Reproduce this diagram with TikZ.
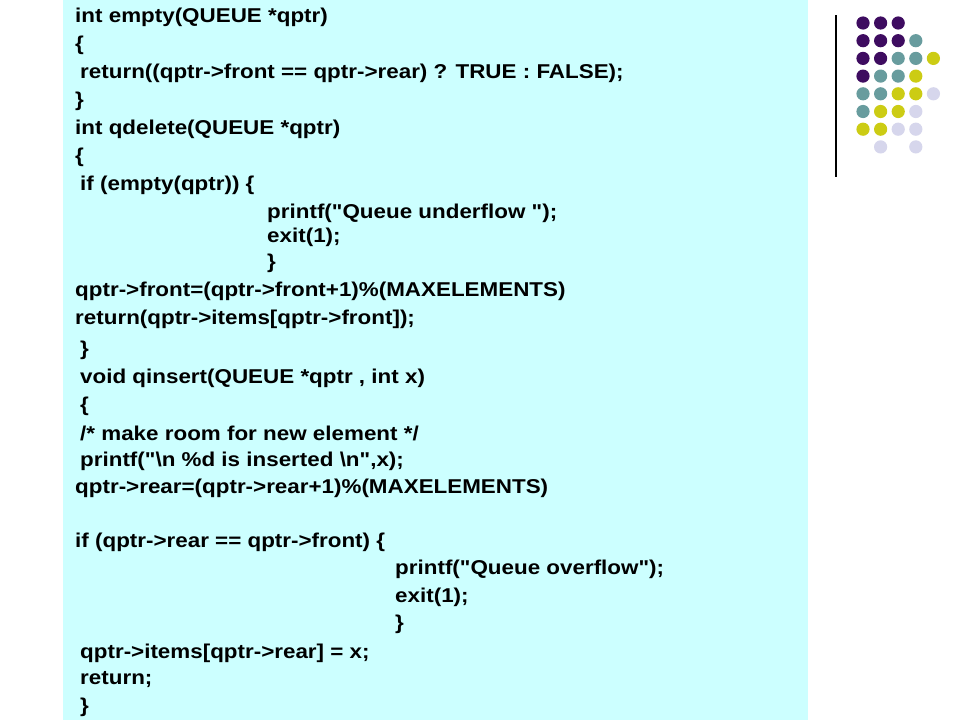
\documentclass[tikz,border=0pt]{standalone}
\usepackage{fontspec}
\defaultfontfeatures[\rmfamily]{}
\setmainfont{Liberation Sans}
\definecolor{bgc}{RGB}{204,255,255}
\definecolor{dP}{RGB}{62,12,96}
\definecolor{dT}{RGB}{104,156,158}
\definecolor{dY}{RGB}{204,204,20}
\definecolor{dL}{RGB}{214,214,236}
\newcommand\qq{\char34\relax}
\begin{document}
\begin{tikzpicture}[x=1pt,y=-1pt,
  code/.style={anchor=west,inner sep=0pt,xscale=1.12,font=\fontsize{20}{22}\selectfont\bfseries}]
\useasboundingbox (0,0) rectangle (960,720);
\fill[white] (0,0) rectangle (960,720);
\fill[bgc] (63,0) rectangle (808,720);
\draw[line width=1.2pt] (836,15) coordinate (la) -- (836,177) coordinate (lb);
\def\dot#1#2#3{\fill[#3] (863+17.6*#1, 23+17.7*#2) circle (6.6);}
\dot00{dP}\dot10{dP}\dot20{dP}
\dot01{dP}\dot11{dP}\dot21{dP}\dot31{dT}
\dot02{dP}\dot12{dP}\dot22{dT}\dot32{dT}\dot42{dY}
\dot03{dP}\dot13{dT}\dot23{dT}\dot33{dY}
\dot04{dT}\dot14{dT}\dot24{dY}\dot34{dY}\dot44{dL}
\dot05{dT}\dot15{dY}\dot25{dY}\dot35{dL}
\dot06{dY}\dot16{dY}\dot26{dL}\dot36{dL}
\dot17{dL}\dot37{dL}
\node[code] (t1) at (75,17) {int empty(QUEUE *qptr)};
\node[code] (t2) at (75,45) {\{};
\node[code] (t3) at (80,73) {return((qptr->front == qptr->rear) ? TRUE : FALSE);};
\node[code] (t4) at (75,101) {\}};
\node[code] (t5) at (75,129) {int qdelete(QUEUE *qptr)};
\node[code] (t6) at (75,157) {\{};
\node[code] (t7) at (80,185) {if (empty(qptr)) \{};
\node[code] (t8) at (267,213) {printf(\qq Queue underflow \qq);};
\node[code] (t9) at (267,237) {exit(1);};
\node[code] (t10) at (267,263) {\}};
\node[code] (t11) at (75,291) {qptr->front=(qptr->front+1)\%(MAXELEMENTS)};
\node[code] (t12) at (75,319) {return(qptr->items[qptr->front]);};
\node[code] (t13) at (80,350) {\}};
\node[code] (t14) at (80,378) {void qinsert(QUEUE *qptr , int x)};
\node[code] (t15) at (80,406) {\{};
\node[code] (t16) at (80,433) {/* make room for new element */};
\node[code] (t17) at (80,461) {printf(\qq\textbackslash n \%d is inserted \textbackslash n\qq,x);};
\node[code] (t18) at (75,488) {qptr->rear=(qptr->rear+1)\%(MAXELEMENTS)};
\node[code] (t19) at (75,542) {if (qptr->rear == qptr->front) \{};
\node[code] (t20) at (395,569) {printf(\qq Queue overflow\qq);};
\node[code] (t21) at (395,597) {exit(1);};
\node[code] (t22) at (395,624) {\}};
\node[code] (t23) at (80,653) {qptr->items[qptr->rear] = x;};
\node[code] (t24) at (80,680) {return;};
\node[code] (t25) at (80,707) {\}};
\end{tikzpicture}
\end{document}
